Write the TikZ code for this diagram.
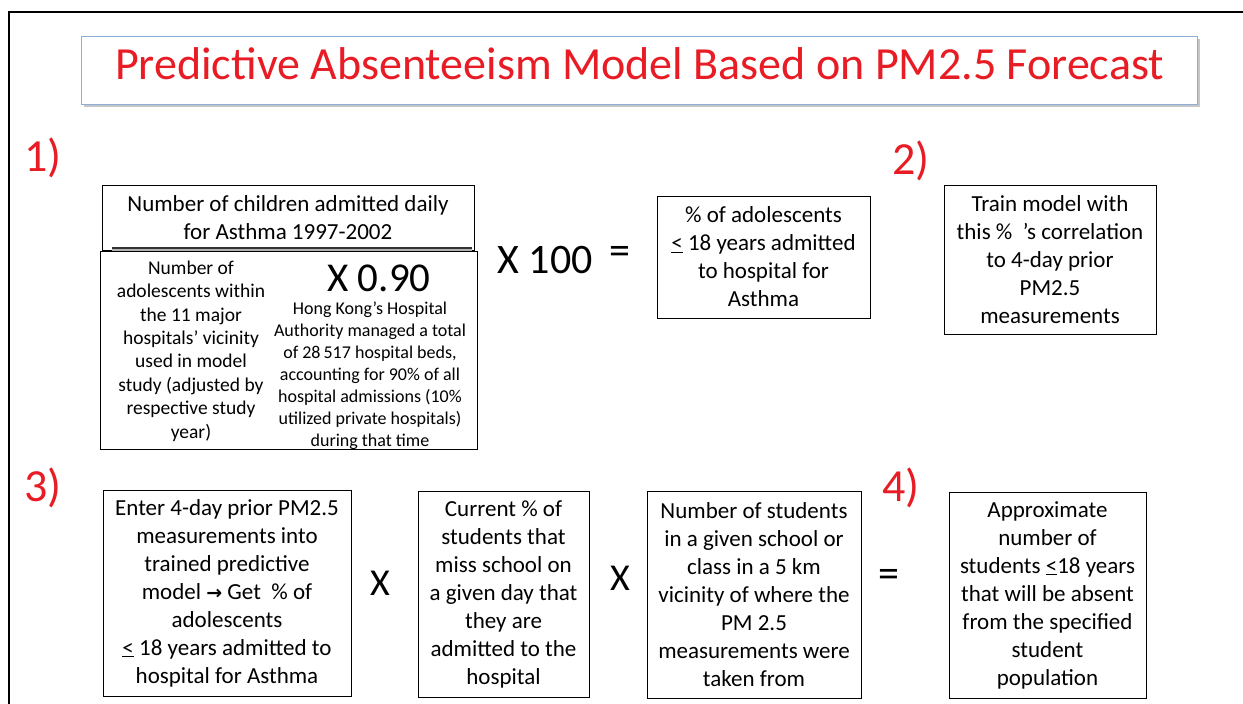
\documentclass[tikz,border=0pt]{standalone}
\usepackage{fontspec}
\setmainfont{Carlito}
\newfontfamily\dejavu{DejaVu Sans}
\usetikzlibrary{shadows}
\definecolor{titlered}{RGB}{232,28,36}
\definecolor{titleblue}{RGB}{140,175,215}
\tikzset{
  box/.style={draw=black, line width=0.8pt, align=center, inner sep=0pt, fill=white,
    font=\fontsize{23}{28}\selectfont},
  smalltxt/.style={align=center, inner sep=0pt, font=\fontsize{19.5}{23.4}\selectfont},
  tinytxt/.style={align=center, inner sep=0pt, font=\fontsize{18}{22}\selectfont},
  bigop/.style={inner sep=0pt, font=\fontsize{42}{46}\selectfont},
  midop/.style={inner sep=0pt, font=\fontsize{38}{42}\selectfont},
  steplabel/.style={inner sep=0pt, text=titlered, font=\fontsize{46}{50}\selectfont},
  frame/.style={line width=2pt, black}
}
\newcommand{\leqsym}{\underline{<}}
\begin{document}
\begin{tikzpicture}[x=1pt,y=-1pt]
\useasboundingbox (0,0) rectangle (1243,704);
% outer frame
\coordinate (fa) at (1243,12);
\coordinate (fb) at (9,12);
\coordinate (fc) at (9,704);
\draw[frame] (fa) -- (fb) -- (fc);
% title
\node[draw=titleblue, line width=0.9pt, fill=white, minimum width=1116pt, minimum height=68pt,
  drop shadow={shadow xshift=2pt, shadow yshift=-3pt, opacity=0.45}, inner sep=0pt] (title) at (639.5,70) {};
\node[anchor=base, text=titlered, font=\fontsize{46}{50}\selectfont, inner sep=0pt] (titletext) at (639.5,79)
  {Predictive Absenteeism Model Based on PM2.5 Forecast};
% step labels
\node[steplabel] (s1) at (43,158) {1)};
\node[steplabel] (s2) at (911,161) {2)};
\node[steplabel] (s3) at (43,488) {3)};
\node[steplabel] (s4) at (901,488) {4)};
% fraction
\node[box, minimum width=372pt, minimum height=65pt] (num) at (288,217.5)
  {Number of children admitted daily\\for Asthma 1997-2002};
\node[draw=black, line width=0.8pt, minimum width=377pt, minimum height=198pt, inner sep=0pt] (den) at (288.5,350) {};
\coordinate (fl) at (112,248);
\coordinate (fr) at (472,248);
\draw[line width=3pt, gray!60] ([yshift=-1.5pt]fl) -- ([yshift=-1.5pt]fr);
\draw[line width=1.8pt, black!80] (fl) -- (fr);
\node[smalltxt] (denl) at (191,351)
  {Number of\\adolescents within\\the 11 major\\hospitals’ vicinity\\used in model\\study (adjusted by\\respective study\\year)};
\node[anchor=base, inner sep=0pt, font=\fontsize{41}{44}\selectfont] (x090) at (379,291) {X 0.90};
\node[tinytxt] (denr) at (370,376)
  {Hong Kong’s Hospital\\Authority managed a total\\of 28\,517 hospital beds,\\accounting for 90\% of all\\hospital admissions (10\%\\utilized private hospitals)\\during that time};
\node[bigop] (x100) at (545,260) {X 100};
\node[bigop] (eq1) at (620,255) {=};
\node[box, minimum width=213pt, minimum height=122pt] (pct) at (763.5,257)
  {\% of adolescents\\\leqsym{} 18 years admitted\\to hospital for\\Asthma};
\node[box, minimum width=212pt, minimum height=149pt] (train) at (1050,259.5)
  {Train model with\\this \%\ \ ’s correlation\\to 4-day prior\\PM2.5\\measurements};
% bottom row
\node[box, minimum width=248pt, minimum height=206pt] (enter) at (227,593)
  {Enter 4-day prior PM2.5\\measurements into\\trained predictive\\model {\dejavu\bfseries\fontsize{19}{28}\selectfont →} Get\ \ \% of\\adolescents\\\leqsym{} 18 years admitted to\\hospital for Asthma};
\node[midop] (xa) at (380,583) {X};
\node[box, minimum width=171pt, minimum height=206pt] (curr) at (503.5,594)
  {Current \% of\\students that\\miss school on\\a given day that\\they are\\admitted to the\\hospital};
\node[midop] (xb) at (620,578) {X};
\node[box, minimum width=214pt, minimum height=207pt] (num2) at (754,594.5)
  {Number of students\\in a given school or\\class in a 5 km\\vicinity of where the\\PM 2.5\\measurements were\\taken from};
\node[bigop] (eq2) at (889,578) {=};
\node[box, minimum width=197pt, minimum height=206pt] (approx) at (1047.5,595)
  {Approximate\\number of\\students \leqsym{}18 years\\that will be absent\\from the specified\\student\\population};
\end{tikzpicture}
\end{document}
